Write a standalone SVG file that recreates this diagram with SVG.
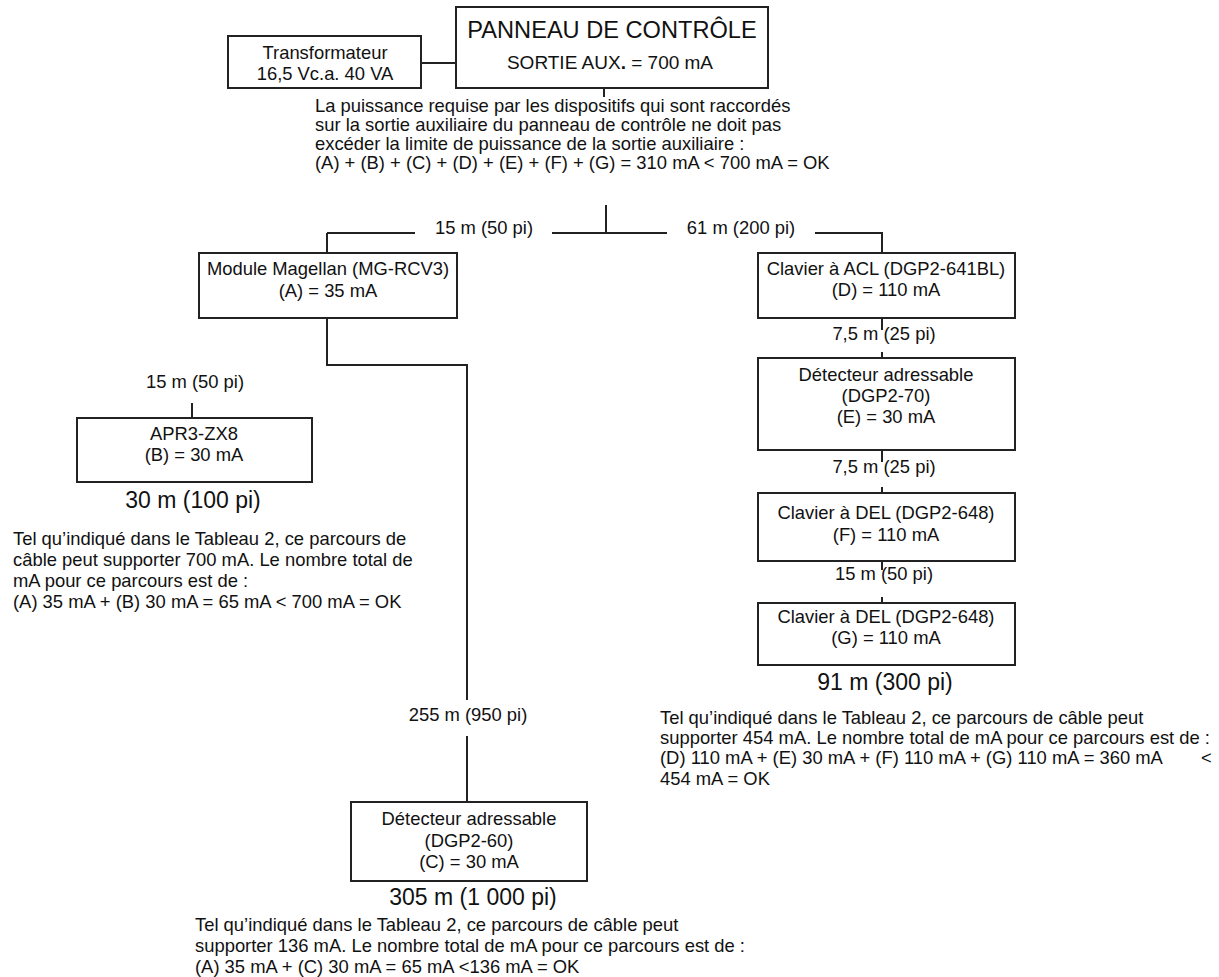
<svg xmlns="http://www.w3.org/2000/svg" width="1219" height="977" viewBox="0 0 1219 977">
<style>
text{font-family:"Liberation Sans",Arial,sans-serif;font-size:18.4px;fill:#111}
.c{text-anchor:middle}
.big{font-size:23px}
.box{fill:#fff;stroke:#222;stroke-width:2}
.ln{stroke:#222;stroke-width:2;fill:none}
</style>
<rect width="1219" height="977" fill="#fff"/>
<g id="connectors">
<path class="ln" d="M421 63H456"/>
<path class="ln" d="M604 88V97"/>
<path class="ln" d="M606 205V233M327 233H415M552 233H667M815 233H882V253M327 233V253"/>
<path class="ln" d="M327 318V365H467V700M467 736V802"/>
<path class="ln" d="M192 403V418"/>
<path class="ln" d="M882 318V330M882 352V358M882 450V462M882 487V493M882 561V570M882 597V603"/>
<text class="c" x="484" y="234">15 m (50 pi)</text>
<text class="c" x="741" y="234">61 m (200 pi)</text>
<text class="c" x="195" y="388">15 m (50 pi)</text>
<text class="c" x="468" y="721">255 m (950 pi)</text>
<text class="c" x="884" y="340">7,5 m (25 pi)</text>
<text class="c" x="884" y="473">7,5 m (25 pi)</text>
<text class="c" x="884" y="580">15 m (50 pi)</text>
</g>
<g id="transformateur">
<rect class="box" x="228" y="36" width="193" height="52"/>
<text class="c" x="325" y="59">Transformateur</text>
<text class="c" x="325" y="80">16,5 Vc.a. 40 VA</text>
</g>
<g id="panneau">
<rect class="box" x="456" y="7" width="312" height="81"/>
<text class="c" x="612" y="38" style="font-size:23.6px">PANNEAU DE CONTRÔLE</text>
<text class="c" x="610" y="69" style="font-size:19px">SORTIE AUX<tspan font-weight="bold">.</tspan> = 700 mA</text>
</g>
<g id="note-total">
<text x="315" y="112">La puissance requise par les dispositifs qui sont raccordés</text>
<text x="315" y="131">sur la sortie auxiliaire du panneau de contrôle ne doit pas</text>
<text x="315" y="150">excéder la limite de puissance de la sortie auxiliaire :</text>
<text x="315" y="169">(A) + (B) + (C) + (D) + (E) + (F) + (G) = 310 mA &lt; 700 mA = OK</text>
</g>
<g id="magellan">
<rect class="box" x="199" y="253" width="258" height="65"/>
<text class="c" x="328" y="275">Module Magellan (MG-RCV3)</text>
<text class="c" x="328" y="297">(A) = 35 mA</text>
</g>
<g id="apr3">
<rect class="box" x="77" y="418" width="235" height="64"/>
<text class="c" x="194" y="440">APR3-ZX8</text>
<text class="c" x="194" y="461">(B) = 30 mA</text>
<text class="c big" x="193" y="508">30 m (100 pi)</text>
</g>
<g id="note-b">
<text x="13" y="545">Tel qu’indiqué dans le Tableau 2, ce parcours de</text>
<text x="13" y="566">câble peut supporter 700 mA. Le nombre total de</text>
<text x="13" y="587">mA pour ce parcours est de :</text>
<text x="13" y="608">(A) 35 mA + (B) 30 mA = 65 mA &lt; 700 mA = OK</text>
</g>
<g id="detecteur-c">
<rect class="box" x="351" y="802" width="236" height="79"/>
<text class="c" x="469" y="825">Détecteur adressable</text>
<text class="c" x="469" y="847">(DGP2-60)</text>
<text class="c" x="469" y="868">(C) = 30 mA</text>
<text class="c big" x="473" y="905">305 m (1 000 pi)</text>
</g>
<g id="note-c">
<text x="195" y="931">Tel qu’indiqué dans le Tableau 2, ce parcours de câble peut</text>
<text x="195" y="952">supporter 136 mA. Le nombre total de mA pour ce parcours est de :</text>
<text x="195" y="973">(A) 35 mA + (C) 30 mA = 65 mA &lt;136 mA = OK</text>
</g>
<g id="clavier-d">
<rect class="box" x="758" y="253" width="257" height="65"/>
<text class="c" x="886" y="275">Clavier à ACL (DGP2-641BL)</text>
<text class="c" x="886" y="296">(D) = 110 mA</text>
</g>
<g id="detecteur-e">
<rect class="box" x="758" y="358" width="257" height="92"/>
<text class="c" x="886" y="381">Détecteur adressable</text>
<text class="c" x="886" y="402">(DGP2-70)</text>
<text class="c" x="886" y="423">(E) = 30 mA</text>
</g>
<g id="clavier-f">
<rect class="box" x="758" y="493" width="257" height="68"/>
<text class="c" x="886" y="519">Clavier à DEL (DGP2-648)</text>
<text class="c" x="886" y="541">(F) = 110 mA</text>
</g>
<g id="clavier-g">
<rect class="box" x="758" y="603" width="257" height="62"/>
<text class="c" x="886" y="623">Clavier à DEL (DGP2-648)</text>
<text class="c" x="886" y="644">(G) = 110 mA</text>
<text class="c big" x="885" y="690">91 m (300 pi)</text>
</g>
<g id="note-dg">
<text x="660" y="724">Tel qu’indiqué dans le Tableau 2, ce parcours de câble peut</text>
<text x="660" y="744">supporter 454 mA. Le nombre total de mA pour ce parcours est de :</text>
<text x="660" y="764">(D) 110 mA + (E) 30 mA + (F) 110 mA + (G) 110 mA = 360 mA</text>
<text x="1201" y="764">&lt;</text>
<text x="660" y="785">454 mA = OK</text>
</g>
</svg>
